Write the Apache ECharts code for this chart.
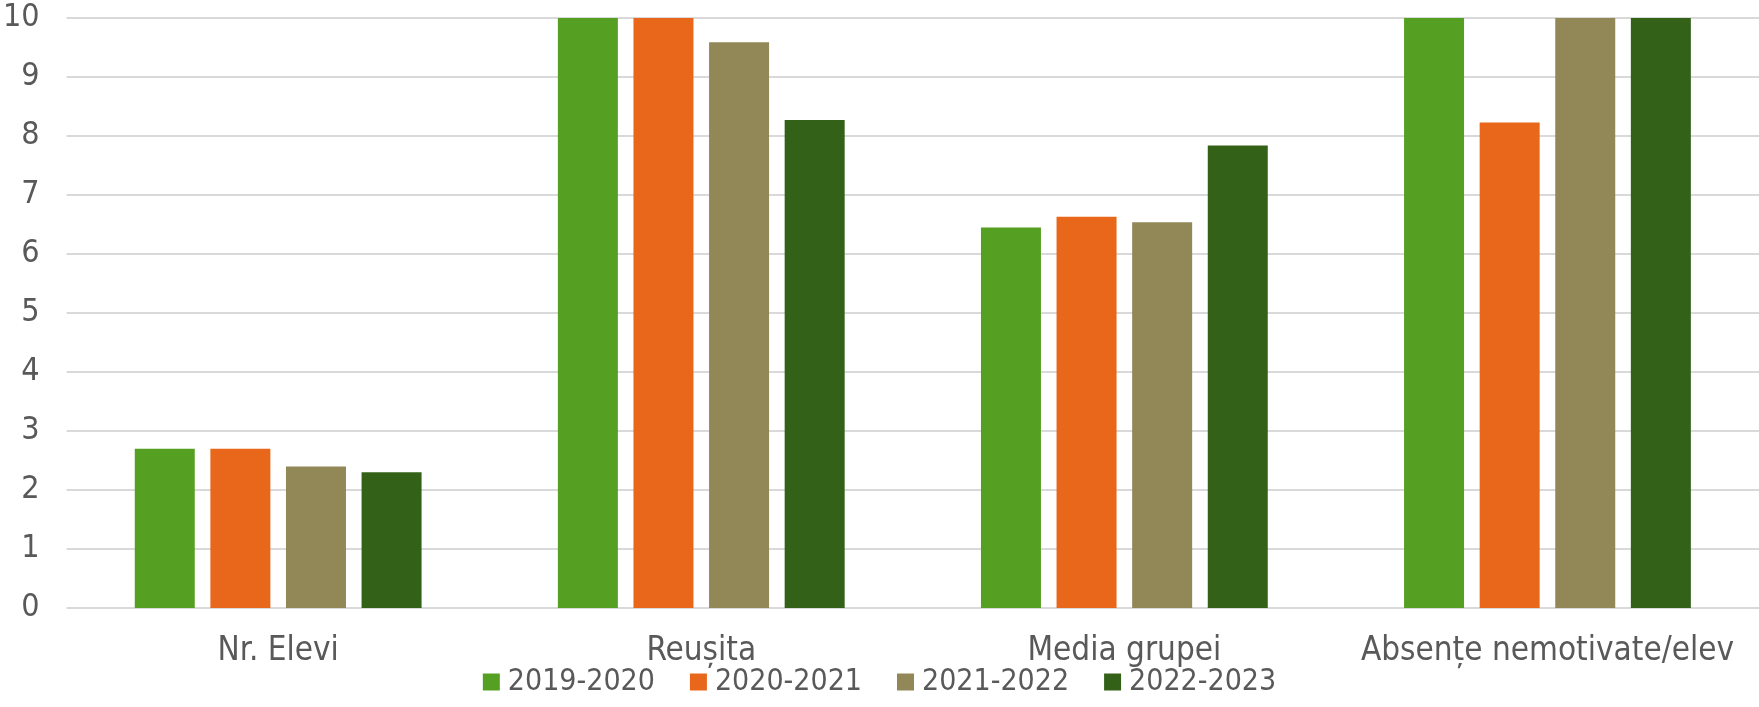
<!DOCTYPE html>
<html>
<head>
<meta charset="utf-8">
<script src="https://cdn.jsdelivr.net/npm/echarts@6/dist/echarts.min.js"></script>
<style>
html,body{margin:0;padding:0;background:#fff;}
#chart{width:1759px;height:707px;}
</style>
</head>
<body>
<div id="chart"></div>
<script>
const categories = ['Nr. Elevi', 'Reușita', 'Media grupei', 'Absențe nemotivate/elev'];
const seriesNames = ['2019-2020', '2020-2021', '2021-2022', '2022-2023'];
const s2019 = [2.7, 10, 6.45, 10];
const s2020 = [2.7, 10, 6.63, 8.23];
const s2021 = [2.4, 9.59, 6.54, 10];
const s2022 = [2.3, 8.27, 7.84, 10];
const colors = ['#55A023', '#E8671A', '#928757', '#336117'];
const yTicks = [0, 10, 1];

const FONT = "'DejaVu Sans Condensed', 'DejaVu Sans', sans-serif";
const TEXT = '#595959';
const values = [s2019, s2020, s2021, s2022];

const chart = echarts.init(document.getElementById('chart'), null, {renderer: 'canvas'});
chart.setOption({
  animation: false,
  backgroundColor: '#fff',
  color: colors,
  grid: {left: 63, right: -12, top: 18, bottom: 99, containLabel: false},
  legend: {
    bottom: 5,
    left: 'center',
    itemWidth: 17,
    itemHeight: 17,
    itemGap: 35,
    icon: 'rect',
    textStyle: {fontFamily: FONT, fontSize: 30, color: TEXT, padding: [0, 0, 0, 3]},
    data: seriesNames
  },
  xAxis: {
    type: 'category',
    data: categories,
    axisLine: {show: false},
    axisTick: {show: false},
    axisLabel: {fontFamily: FONT, fontSize: 33, color: TEXT, margin: 27, interval: 0}
  },
  yAxis: {
    type: 'value',
    min: yTicks[0],
    max: yTicks[1],
    interval: yTicks[2],
    axisLine: {show: false},
    axisTick: {show: false},
    axisLabel: {fontFamily: FONT, fontSize: 32, color: TEXT, margin: 27},
    splitLine: {lineStyle: {color: '#d9d9d9', width: 2}}
  },
  series: seriesNames.map((name, i) => ({
    name: name,
    type: 'bar',
    data: values[i],
    barWidth: 60,
    barGap: '26%',
    clip: true,
    itemStyle: {color: colors[i]}
  }))
});
</script>
</body>
</html>
